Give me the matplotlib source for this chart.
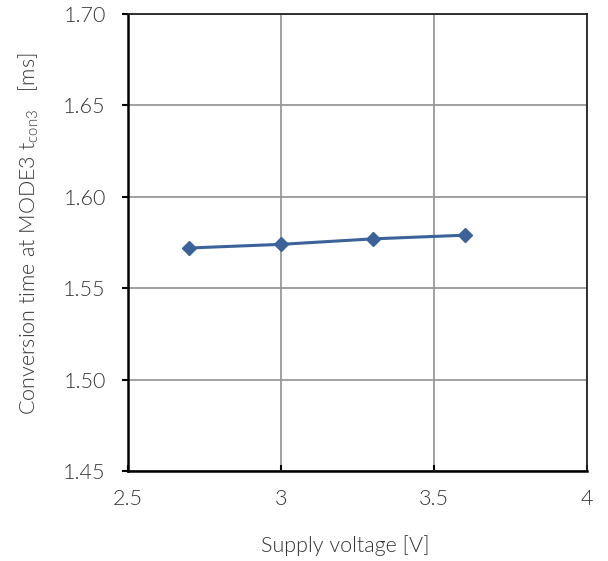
import matplotlib.pyplot as plt

voltage = [2.7, 3.0, 3.3, 3.6]
conv_time = [1.572, 1.574, 1.577, 1.579]
x_ticks = [2.5, 3, 3.5, 4]
x_labels = ["2.5", "3", "3.5", "4"]
y_ticks = [1.45, 1.50, 1.55, 1.60, 1.65, 1.70]

plt.rcParams["font.family"] = ["Lato", "DejaVu Sans"]
plt.rcParams["font.weight"] = 300
plt.rcParams["axes.labelweight"] = 300
plt.rcParams["mathtext.default"] = "regular"
txt = "#333333"

fig = plt.figure(figsize=(6.08, 5.61), dpi=100)
ax = fig.add_axes([0.2105, 0.1604, 0.755, 0.8146])

ax.plot(voltage, conv_time, color="#3C6399", linewidth=2.2,
        marker="D", markersize=7.5, zorder=3)

ax.set_xlim(2.5, 4)
ax.set_ylim(1.45, 1.70)
ax.set_xticks(x_ticks)
ax.set_xticklabels(x_labels)
ax.set_yticks(y_ticks)
ax.set_yticklabels([f"{v:.2f}" for v in y_ticks])
ax.grid(True, color="#999999", linewidth=1.3)
ax.set_axisbelow(True)

for s in ["left", "bottom"]:
    ax.spines[s].set_linewidth(1.8)
    ax.spines[s].set_color("black")
for s in ["top", "right"]:
    ax.spines[s].set_linewidth(1.3)
    ax.spines[s].set_color("#222222")

ax.tick_params(axis="x", direction="in", length=4, width=1.5, pad=13,
               labelsize=15.5, labelcolor=txt)
ax.tick_params(axis="y", direction="out", length=4, width=1.5, pad=12,
               labelsize=15.5, labelcolor=txt)

ax.set_xlabel("Supply voltage [V]", fontsize=15.5, color=txt)
ax.xaxis.set_label_coords(0.473, -0.14)
ax.set_ylabel(r"Conversion time at MODE3 t$_{con3}$   [ms]",
              fontsize=15.5, color=txt)
ax.yaxis.set_label_coords(-0.19, 0.52)

fig.savefig("out.png", dpi=100)
